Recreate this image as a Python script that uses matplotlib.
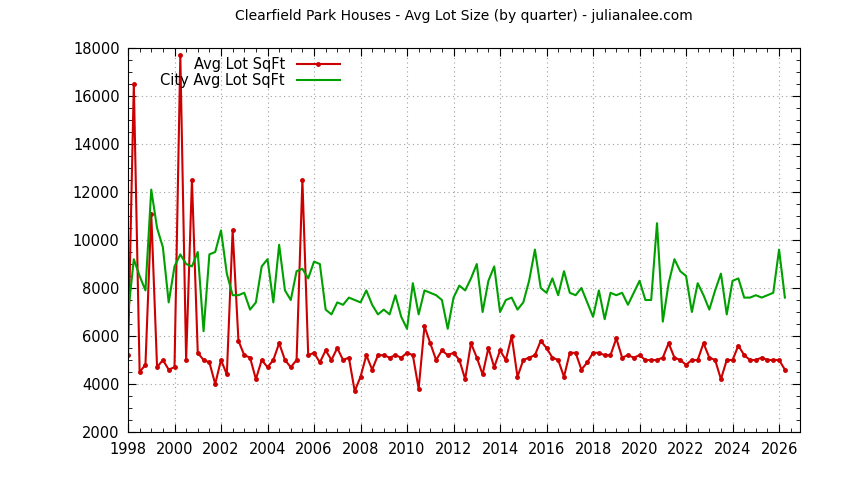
import matplotlib
matplotlib.use("Agg")
import matplotlib.pyplot as plt
import numpy as np
from matplotlib.ticker import MultipleLocator

start_year = 1998.0
red_vals = [
    5200, 16500, 4500, 4800, 11100, 4700, 5000, 4600, 4700, 17700,
    5000, 12500, 5300, 5000, 4900, 4000, 5000, 4400, 10400, 5800,
    5200, 5100, 4200, 5000, 4700, 5000, 5700, 5000, 4700, 5000,
    12500, 5200, 5300, 4900, 5400, 5000, 5500, 5000, 5100, 3700,
    4300, 5200, 4600, 5200, 5200, 5100, 5200, 5100, 5300, 5200,
    3800, 6400, 5700, 5000, 5400, 5200, 5300, 5000, 4200, 5700,
    5100, 4400, 5500, 4700, 5400, 5000, 6000, 4300, 5000, 5100,
    5200, 5800, 5500, 5100, 5000, 4300, 5300, 5300, 4600, 4900,
    5300, 5300, 5200, 5200, 5900, 5100, 5200, 5100, 5200, 5000,
    5000, 5000, 5100, 5700, 5100, 5000, 4800, 5000, 5000, 5700,
    5100, 5000, 4200, 5000, 5000, 5600, 5200, 5000, 5000, 5100,
    5000, 5000, 5000, 4600,
]
city_vals = [
    6900, 9200, 8500, 7900, 12100, 10500, 9700, 7400, 8900, 9400,
    9000, 8900, 9500, 6200, 9400, 9500, 10400, 8600, 7700, 7700,
    7800, 7100, 7400, 8900, 9200, 7400, 9800, 7900, 7500, 8700,
    8800, 8400, 9100, 9000, 7100, 6900, 7400, 7300, 7600, 7500,
    7400, 7900, 7300, 6900, 7100, 6900, 7700, 6800, 6300, 8200,
    6900, 7900, 7800, 7700, 7500, 6300, 7600, 8100, 7900, 8400,
    9000, 7000, 8300, 8900, 7000, 7500, 7600, 7100, 7400, 8300,
    9600, 8000, 7800, 8400, 7700, 8700, 7800, 7700, 8000, 7400,
    6800, 7900, 6700, 7800, 7700, 7800, 7300, 7800, 8300, 7500,
    7500, 10700, 6600, 8200, 9200, 8700, 8500, 7000, 8200, 7700,
    7100, 7900, 8600, 6900, 8300, 8400, 7600, 7600, 7700, 7600,
    7700, 7800, 9600, 7600,
]
x_ticks = list(range(1998, 2027, 2))

x = start_year + 0.25 * np.arange(len(red_vals))

fig = plt.figure(figsize=(8.44, 4.8), dpi=100)
ax = fig.add_axes([128 / 844, 48 / 480, 672 / 844, 384 / 480])

ax.plot(x, red_vals, color="#cc0000", lw=1.5, marker="o", ms=2.5, label="Avg Lot SqFt")
ax.plot(x, city_vals, color="#00a000", lw=1.5, label="City Avg Lot SqFt")

ax.set_xlim(1998, 2026.9)
ax.set_ylim(2000, 18000)
ax.set_xticks(x_ticks)
ax.xaxis.set_minor_locator(MultipleLocator(0.5))
ax.yaxis.set_major_locator(MultipleLocator(2000))
ax.yaxis.set_minor_locator(MultipleLocator(500))
ax.tick_params(direction="in", which="both", top=True, right=True, labelsize=10.5)
ax.tick_params(which="major", length=6)
ax.tick_params(which="minor", length=3)
ax.tick_params(axis="x", pad=7)
ax.tick_params(axis="y", pad=6)
ax.grid(True, which="major", color="#a0a0a0", ls=(0, (1, 3)), lw=0.8)

ax.set_title("Clearfield Park Houses - Avg Lot Size (by quarter) - julianalee.com", fontsize=10, pad=20)
ax.legend(loc="upper left", bbox_to_anchor=(0.035, 1.0), frameon=False, markerfirst=False,
          fontsize=10.5, handlelength=3, labelspacing=0.1, borderaxespad=0.2)

fig.savefig("out.png", dpi=100)
